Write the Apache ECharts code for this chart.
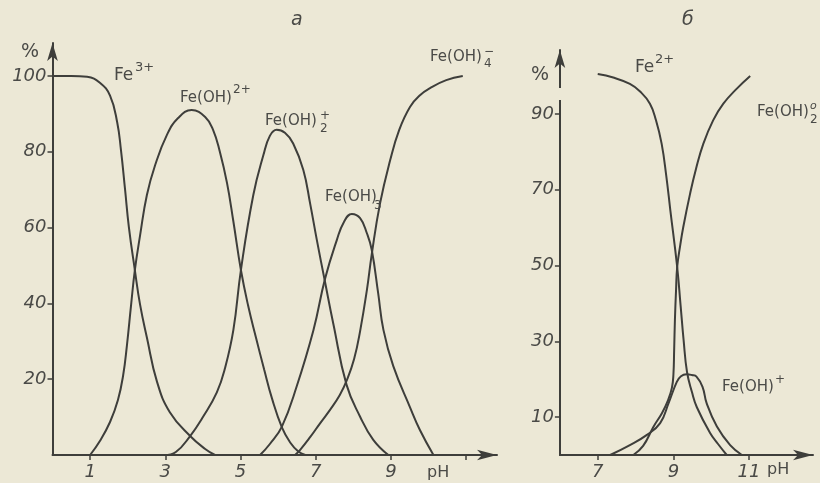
<!DOCTYPE html>
<html><head><meta charset="utf-8">
<script src="https://cdn.jsdelivr.net/npm/echarts@6/dist/echarts.min.js"></script>
<style>html,body{margin:0;padding:0;background:#ece8d6}#c{width:820px;height:483px}</style>
</head><body><div id="c"></div>
<script>
// ---- Panel а : Fe(III) species, % vs pH ----
const fe3PH   = [0, 0.5, 0.92, 1.26, 1.53, 1.72, 1.82, 1.93, 2.03, 2.19, 2.33, 2.51, 2.78, 3.12, 3.66, 4.06, 4.32];
const fe3Pct  = [100, 100, 99.8, 98.2, 94.8, 87.8, 80.5, 70, 60.2, 48.8, 39.6, 31, 19.3, 11.3, 5, 1.6, 0];

const feOH2PH  = [1.0, 1.26, 1.53, 1.74, 1.88, 1.98, 2.09, 2.19, 2.33, 2.51, 2.73, 3.04, 3.34, 3.7, 4.06, 4.27, 4.45, 4.64, 4.81, 5.01, 5.2, 5.41, 5.63, 5.84, 6.1, 6.32, 6.53, 6.72];
const feOH2Pct = [0, 3.7, 8.7, 14.5, 21.1, 29, 39.6, 48.8, 58, 68.6, 76.5, 84.4, 88.9, 91, 89.2, 85.8, 80, 71.8, 61.6, 48.8, 39.5, 31, 22.5, 14.8, 7.3, 3.3, 1, 0];

const feOH2pPH  = [2.97, 3.28, 3.66, 4.0, 4.37, 4.59, 4.81, 5.01, 5.34, 5.61, 5.78, 5.96, 6.18, 6.4, 6.67, 6.85, 7.03, 7.25, 7.47, 7.82, 8.18, 8.53, 8.93];
const feOH2pPct = [0, 0.8, 5, 10, 16.5, 23, 33, 48.8, 68.6, 79.2, 84.2, 85.8, 85, 82.2, 75.2, 66.4, 56.7, 45.5, 34.5, 18.5, 10.1, 4, 0];

const feOH3PH  = [5.52, 5.78, 6.1, 6.49, 6.94, 7.25, 7.56, 7.75, 7.96, 8.18, 8.36, 8.49, 8.66, 8.8, 9.06, 9.51, 9.77, 10.13];
const feOH3Pct = [0, 2.9, 7.5, 18, 33, 46.6, 56.7, 61.5, 63.6, 62.5, 58.5, 54.1, 42.7, 33, 23.5, 12.5, 6.6, 0];

const feOH4PH  = [6.45, 6.58, 6.85, 7.11, 7.38, 7.64, 7.83, 8.02, 8.18, 8.36, 8.49, 8.71, 8.98, 9.22, 9.51, 9.78, 10.04, 10.47, 10.91];
const feOH4Pct = [0, 1.3, 4.7, 8.3, 11.9, 15.8, 19.8, 25.3, 32.7, 43.5, 53, 66.4, 77.8, 85.8, 91.9, 95, 96.8, 98.9, 100];

// ---- Panel б : Fe(II) species ----
const fe2PH  = [7.0, 7.41, 7.85, 8.12, 8.38, 8.54, 8.69, 8.81, 8.92, 9.1, 9.19, 9.27, 9.36, 9.49, 9.62, 9.97, 10.18, 10.41];
const fe2Pct = [100.5, 99.6, 97.9, 95.9, 92.7, 88.3, 82.1, 73.8, 64.5, 49.6, 39.5, 30.3, 21.9, 16.6, 12.6, 5.8, 2.9, 0];

const feOH2bPH  = [7.94, 8.2, 8.47, 8.7, 8.86, 8.96, 9.0, 9.02, 9.04, 9.07, 9.1, 9.18, 9.26, 9.44, 9.6, 9.79, 10.05, 10.32, 10.67, 11.03];
const feOH2bPct = [0, 2.4, 7.4, 11.1, 14.5, 17.7, 21.1, 27.7, 35.6, 43.5, 49.6, 55.3, 60.1, 68.9, 75.6, 82.1, 88.3, 92.7, 96.6, 100];

const feOHPH  = [7.33, 7.85, 8.3, 8.65, 8.87, 9.09, 9.2, 9.35, 9.49, 9.61, 9.77, 9.88, 10.15, 10.5, 10.81];
const feOHPct = [0, 2.6, 5.3, 8.4, 13.6, 19.3, 20.8, 21.3, 21.1, 20.7, 18, 13.6, 7.5, 2.6, 0];

// ---- tick labels ----
const xTicksA = [1, 3, 5, 7, 9, 11];
const xLabelsA = [1, 3, 5, 7, 9];
const yTicksA = [20, 40, 60, 80, 100];
const xTicksB = [7, 9, 11];
const yTicksB = [10, 30, 50, 70, 90];

const BG = '#ece8d6', INK = '#3e3e3b', TXT = '#4a4a47';
const pairs = (xs, ys) => xs.map((x, i) => [x, ys[i]]);

function xAxisCfg(gi, min, max, ticks, labels) {
  return {
    type: 'value', gridIndex: gi, min: min, max: max,
    axisLine: { show: true, onZero: false, symbol: ['none', 'arrow'], symbolSize: [8, 20], lineStyle: { color: INK, width: 2 } },
    axisTick: { show: true, length: 5, customValues: ticks, lineStyle: { color: INK, width: 1.5 } },
    axisLabel: { customValues: labels, fontStyle: 'italic', fontSize: 18, fontFamily: 'DejaVu Sans', color: TXT, margin: 8 },
    splitLine: { show: false }
  };
}
function yAxisCfg(gi, max, ticks) {
  return {
    type: 'value', gridIndex: gi, min: 0, max: max,
    axisLine: { show: true, onZero: false, symbol: ['none', 'arrow'], symbolSize: [8, 18], lineStyle: { color: INK, width: 2 } },
    axisTick: { show: true, length: 5, customValues: ticks, lineStyle: { color: INK, width: 1.5 } },
    axisLabel: { customValues: ticks, fontStyle: 'italic', fontSize: 18, fontFamily: 'DejaVu Sans', color: TXT, margin: 6 },
    splitLine: { show: false }
  };
}
function line(name, gi, xs, ys) {
  return {
    name: name, type: 'line', xAxisIndex: gi, yAxisIndex: gi,
    data: pairs(xs, ys), smooth: 0.45,
    showSymbol: false, symbol: 'none', silent: true,
    lineStyle: { color: INK, width: 2 }
  };
}
function t(text, x, y, size, italic) {
  return { type: 'text', z: 50, style: { text: text, x: x, y: y,
    font: (italic ? 'italic ' : '') + size + 'px "DejaVu Sans"', fill: TXT,
    textAlign: 'left', textVerticalAlign: 'middle' } };
}

const chart = echarts.init(document.getElementById('c'));
chart.setOption({
  backgroundColor: BG,
  animation: false,
  grid: [
    { left: 52.5, top: 43, width: 444.5, height: 412 },
    { left: 559.9, top: 50, width: 253.1, height: 405 }
  ],
  xAxis: [xAxisCfg(0, 0, 11.82, xTicksA, xLabelsA), xAxisCfg(1, 6, 12.69, xTicksB, xTicksB)],
  yAxis: [yAxisCfg(0, 108.7, yTicksA), yAxisCfg(1, 106.86, yTicksB)],
  series: [
    line('Fe3+', 0, fe3PH, fe3Pct),
    line('Fe(OH)2+', 0, feOH2PH, feOH2Pct),
    line('Fe(OH)2+ (2)', 0, feOH2pPH, feOH2pPct),
    line('Fe(OH)3', 0, feOH3PH, feOH3Pct),
    line('Fe(OH)4-', 0, feOH4PH, feOH4Pct),
    line('Fe2+', 1, fe2PH, fe2Pct),
    line('Fe(OH)2', 1, feOH2bPH, feOH2bPct),
    line('Fe(OH)+', 1, feOHPH, feOHPct)
  ],
  graphic: [
    { type: 'rect', z: 100, shape: { x: 554, y: 88, width: 11, height: 12 }, style: { fill: BG } },
    t('а', 291, 20, 19, true),
    t('б', 682, 20, 19, true),
    t('%', 21, 52, 19, false),
    t('%', 531, 75, 19, false),
    t('pH', 427, 473, 16, false),
    t('pH', 767, 470, 16, false),
    t('Fe', 114, 76, 17, false), t('3+', 135, 68, 13, false),
    t('Fe(OH)', 180, 98, 15, false), t('2+', 233, 90, 12, false),
    t('Fe(OH)', 265, 121, 15, false), t('2', 320, 129, 12, false), t('+', 320, 116, 12, false),
    t('Fe(OH)', 325, 197, 15, false), t('3', 374, 206, 12, false),
    t('Fe(OH)', 430, 57, 15, false), t('4', 484, 64, 12, false), t('−', 484, 52, 12, false),
    t('Fe', 635, 68, 17, false), t('2+', 655, 60, 13, false),
    t('Fe(OH)', 757, 112, 15, false), t('2', 810, 120, 12, false), t('o', 810, 106, 11, true),
    t('Fe(OH)', 722, 387, 15, false), t('+', 775, 380, 12, false)
  ]
});
</script></body></html>
